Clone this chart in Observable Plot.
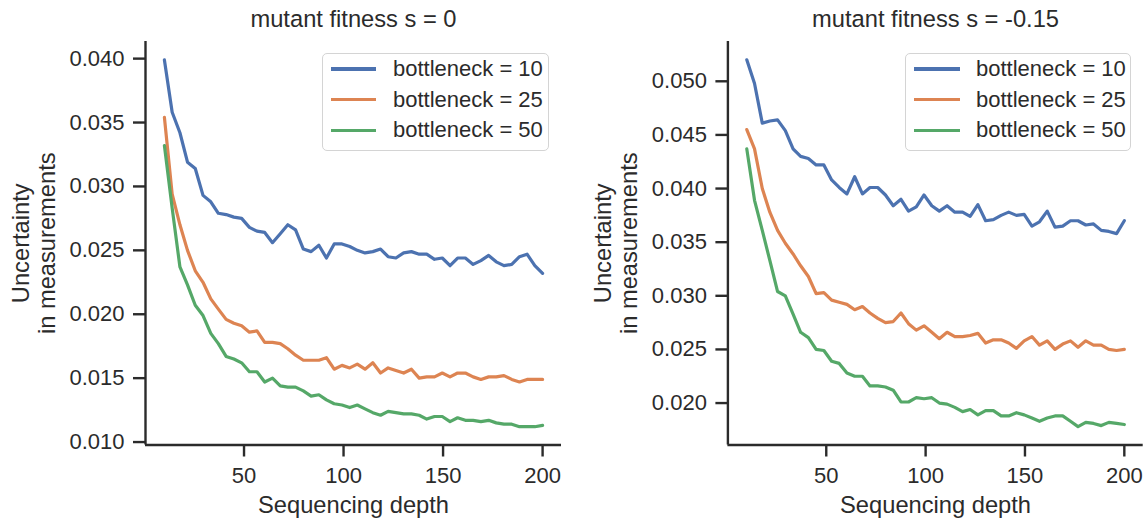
<!DOCTYPE html>
<html><head><meta charset="utf-8">
<script src="https://cdn.jsdelivr.net/npm/d3@7"></script>
<script src="https://cdn.jsdelivr.net/npm/@observablehq/plot@0.6"></script>
<style>
html,body{margin:0;padding:0;background:#fff;}
#root{position:relative;width:1144px;height:519px;overflow:hidden;font-family:"Liberation Sans",Arial,sans-serif;color:#2b2b2b;}
.panel{position:absolute;top:0;}
.legend{position:absolute;box-sizing:border-box;border:1.3px solid #d4d4d4;border-radius:5px;background:rgba(255,255,255,0.85);}
.legend .sw{position:absolute;height:3.2px;}
.legend .lb{position:absolute;height:24px;line-height:24px;font-size:22px;white-space:nowrap;color:#2b2b2b;}
</style>
</head><body><div id="root"></div>
<script>
// ---- data ----
const depth = [10,13.9,17.8,21.6,25.5,29.4,33.3,37.1,41.0,44.9,48.8,52.7,56.5,60.4,64.3,68.2,72.0,75.9,79.8,83.7,87.6,91.4,95.3,99.2,103.1,106.9,110.8,114.7,118.6,122.4,126.3,130.2,134.1,138.0,141.8,145.7,149.6,153.5,157.3,161.2,165.1,169.0,172.9,176.7,180.6,184.5,188.4,192.2,196.1,200];
const series = ["bottleneck = 10","bottleneck = 25","bottleneck = 50"];
const colors = ["#4c72b0","#dd8452","#55a868"];
const panelTitles = ["mutant fitness s = 0","mutant fitness s = -0.15"];
const xTicks = [50,100,150,200];
const yTicksA = [0.010,0.015,0.020,0.025,0.030,0.035,0.040];
const yTicksB = [0.020,0.025,0.030,0.035,0.040,0.045,0.050];

const s0_b10 = [0.0399,0.0358,0.0342,0.0319,0.0314,0.0293,0.0288,0.0279,0.0278,0.0276,0.0275,0.0268,0.0265,0.0264,0.0256,0.0263,0.0270,0.0266,0.0251,0.0249,0.0254,0.0244,0.0255,0.0255,0.0253,0.0250,0.0248,0.0249,0.0251,0.0245,0.0244,0.0248,0.0249,0.0247,0.0247,0.0243,0.0244,0.0238,0.0244,0.0244,0.0239,0.0242,0.0246,0.0241,0.0238,0.0239,0.0245,0.0247,0.0238,0.0232];
const s0_b25 = [0.0354,0.0294,0.0270,0.0250,0.0234,0.0225,0.0212,0.0204,0.0196,0.0193,0.0191,0.0186,0.0187,0.0178,0.0178,0.0177,0.0173,0.0168,0.0164,0.0164,0.0164,0.0166,0.0157,0.0160,0.0158,0.0161,0.0157,0.0162,0.0154,0.0158,0.0156,0.0154,0.0157,0.0150,0.0151,0.0151,0.0154,0.0151,0.0154,0.0154,0.0151,0.0149,0.0151,0.0151,0.0152,0.0149,0.0147,0.0149,0.0149,0.0149];
const s0_b50 = [0.0332,0.0283,0.0237,0.0223,0.0207,0.0199,0.0185,0.0177,0.0167,0.0165,0.0162,0.0155,0.0155,0.0147,0.0150,0.0144,0.0143,0.0143,0.0140,0.0136,0.0137,0.0133,0.0130,0.0129,0.0127,0.0129,0.0126,0.0123,0.0121,0.0124,0.0123,0.0122,0.0122,0.0121,0.0118,0.0120,0.0120,0.0116,0.0119,0.0117,0.0117,0.0116,0.0117,0.0115,0.0114,0.0114,0.0112,0.0112,0.0112,0.0113];
const s15_b10 = [0.0520,0.0498,0.0461,0.0463,0.0464,0.0454,0.0437,0.0430,0.0428,0.0422,0.0422,0.0408,0.0401,0.0395,0.0411,0.0395,0.0401,0.0401,0.0394,0.0384,0.0390,0.0379,0.0383,0.0394,0.0384,0.0379,0.0384,0.0378,0.0378,0.0374,0.0385,0.0370,0.0371,0.0375,0.0378,0.0375,0.0376,0.0365,0.0369,0.0379,0.0364,0.0365,0.0370,0.0370,0.0366,0.0367,0.0361,0.0360,0.0358,0.0370];
const s15_b25 = [0.0455,0.0437,0.0400,0.0378,0.0361,0.0349,0.0339,0.0328,0.0318,0.0302,0.0303,0.0296,0.0294,0.0292,0.0287,0.0290,0.0284,0.0279,0.0275,0.0276,0.0284,0.0274,0.0268,0.0272,0.0266,0.0260,0.0266,0.0262,0.0262,0.0263,0.0265,0.0256,0.0259,0.0259,0.0256,0.0251,0.0258,0.0262,0.0254,0.0258,0.0250,0.0255,0.0258,0.0252,0.0258,0.0254,0.0254,0.0250,0.0249,0.0250];
const s15_b50 = [0.0437,0.0389,0.0361,0.0333,0.0304,0.0300,0.0283,0.0266,0.0261,0.0250,0.0249,0.0239,0.0237,0.0228,0.0225,0.0225,0.0216,0.0216,0.0215,0.0212,0.0201,0.0201,0.0205,0.0204,0.0205,0.0200,0.0199,0.0196,0.0192,0.0194,0.0189,0.0193,0.0193,0.0188,0.0188,0.0191,0.0189,0.0186,0.0183,0.0186,0.0188,0.0188,0.0183,0.0178,0.0182,0.0181,0.0179,0.0182,0.0181,0.0180];

// ---- build ----
function rowsFor(arrs){
  const out = [];
  arrs.forEach((vals, k) => vals.forEach((v, i) => out.push({depth: depth[i], value: v, series: series[k]})));
  return out;
}
const font = '"Liberation Sans", Arial, sans-serif';
const ink = "#2b2b2b";

function panel(opts){
  const {rows, yDomain, yTicks, title, left, mLeft, mRight} = opts;
  const xDomain = [0.5, 209.5];
  const p = Plot.plot({
    width: 572, height: 519,
    marginLeft: mLeft, marginRight: mRight, marginTop: 41, marginBottom: 74.5,
    style: {fontFamily: font, fontSize: "22px", color: ink, background: "transparent", overflow: "visible"},
    x: {domain: xDomain},
    y: {domain: yDomain},
    color: {domain: series, range: colors},
    marks: [
      Plot.axisX({ticks: xTicks, tickSize: 12, tickPadding: 10, strokeWidth: 2.4, label: null, fontSize: 22}),
      Plot.axisY({ticks: yTicks, tickSize: 12, tickPadding: 9, strokeWidth: 2.4, tickFormat: d3.format(".3f"), label: null, fontSize: 22}),
      Plot.ruleX([xDomain[0]], {strokeWidth: 2.4, stroke: ink}),
      Plot.ruleY([yDomain[0]], {strokeWidth: 2.4, stroke: ink}),
      Plot.line(rows, {x: "depth", y: "value", stroke: "series", z: "series", strokeWidth: 3.2}),
      Plot.text([title], {frameAnchor: "top", text: d => d, dy: -22, lineAnchor: "middle", fontSize: 23.7, fill: ink}),
      Plot.text(["Sequencing depth"], {frameAnchor: "bottom", text: d => d, dy: 60.5, lineAnchor: "middle", fontSize: 23.7, fill: ink}),
      Plot.text(["Uncertainty\nin measurements"], {frameAnchor: "left", text: d => d, rotate: -90, dx: opts.labelDx, lineAnchor: "middle", textAnchor: "middle", lineHeight: 1.08, fontSize: 23.7, fill: ink})
    ]
  });
  p.classList.add("panel");
  p.style.left = left + "px";
  return p;
}

function legend(box){
  const d = document.createElement("div");
  d.className = "legend";
  d.style.left = box.left + "px"; d.style.top = box.top + "px";
  d.style.width = box.width + "px"; d.style.height = box.height + "px";
  const centers = [16.3, 47, 77.7];
  series.forEach((s, k) => {
    const sw = document.createElement("div");
    sw.className = "sw";
    sw.style.left = box.swLeft + "px"; sw.style.width = "45.5px";
    sw.style.top = (centers[k] - 1.6 - 1.3) + "px";
    sw.style.background = colors[k];
    d.appendChild(sw);
    const lb = document.createElement("div");
    lb.className = "lb";
    lb.style.left = box.txLeft + "px";
    lb.style.top = (centers[k] - 12 - 1.3) + "px";
    lb.textContent = s;
    d.appendChild(lb);
  });
  return d;
}

const root = document.getElementById("root");
root.appendChild(panel({rows: rowsFor([s0_b10, s0_b25, s0_b50]), yDomain: [0.00977, 0.04134], yTicks: yTicksA, title: panelTitles[0], left: 0, mLeft: 145, mRight: 11, labelDx: -112}));
root.appendChild(panel({rows: rowsFor([s15_b10, s15_b25, s15_b50]), yDomain: [0.01609, 0.05371], yTicks: yTicksB, title: panelTitles[1], left: 572, mLeft: 155.4, mRight: 1.3, labelDx: -112}));
root.appendChild(legend({left: 322, top: 53, width: 227, height: 98, swLeft: 7.5, txLeft: 70}));
root.appendChild(legend({left: 905, top: 53, width: 226, height: 98, swLeft: 8, txLeft: 70}));
</script>
</body></html>
